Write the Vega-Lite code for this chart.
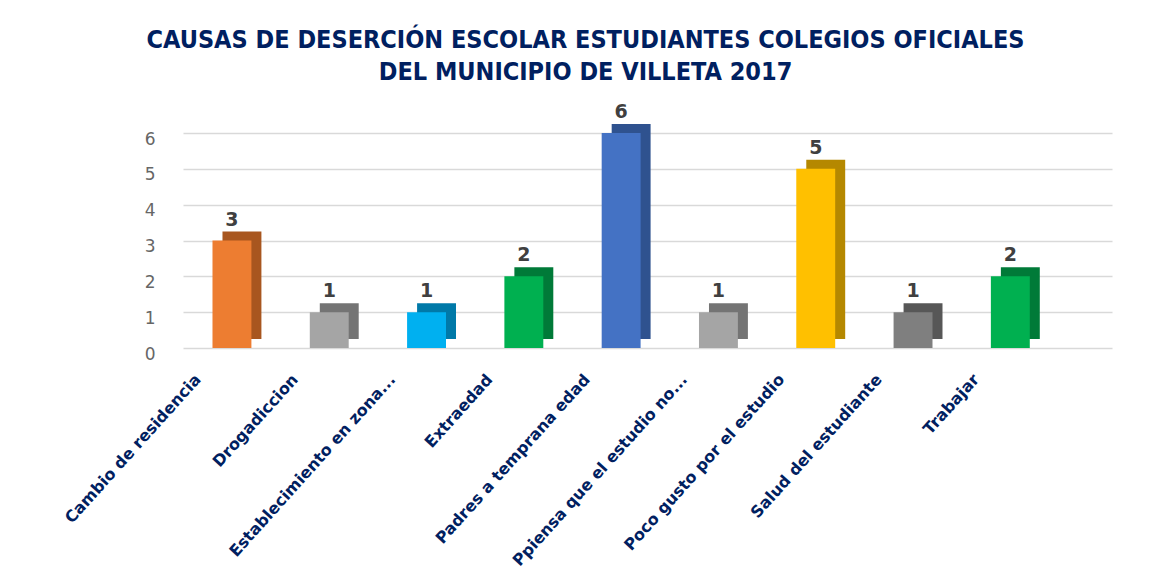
{
  "$schema": "https://vega.github.io/schema/vega-lite/v6.json",
  "width": 929,
  "height": 215,
  "autosize": {"type": "none"},
  "padding": {"left": 183, "top": 133, "right": 42, "bottom": 234},
  "background": "white",
  "config": {"view": {"stroke": null}},
  "title": {
    "text": ["CAUSAS DE DESERCIÓN ESCOLAR ESTUDIANTES COLEGIOS OFICIALES", "DEL MUNICIPIO DE VILLETA 2017"],
    "font": "DejaVu Sans Condensed, Liberation Sans",
    "fontSize": 25,
    "fontWeight": "bold",
    "color": "#002060",
    "anchor": "middle",
    "dx": -62,
    "offset": 18,
    "lineHeight": 32
  },
  "data": {
    "values": [
      {"causa": "Cambio de residencia", "n": 3},
      {"causa": "Drogadiccion", "n": 1},
      {"causa": "Establecimiento en zona...", "n": 1},
      {"causa": "Extraedad", "n": 2},
      {"causa": "Padres a temprana edad", "n": 6},
      {"causa": "Ppiensa que el estudio no...", "n": 1},
      {"causa": "Poco gusto por el estudio", "n": 5},
      {"causa": "Salud del estudiante", "n": 1},
      {"causa": "Trabajar", "n": 2}
    ]
  },
  "encoding": {
    "x": {
      "field": "causa",
      "type": "nominal",
      "sort": null,
      "title": null,
      "scale": {"paddingInner": 0.6, "paddingOuter": 0.574, "align": 0.264},
      "axis": {
        "domain": false,
        "ticks": false,
        "labelAngle": -48,
        "labelAlign": "right",
        "labelBaseline": "top",
        "labelFont": "DejaVu Sans",
        "labelFontWeight": "bold",
        "labelFontSize": 16,
        "labelColor": "#002060",
        "labelOffset": -40,
        "labelPadding": 23,
        "labelLimit": 0
      }
    },
    "y": {
      "field": "n",
      "type": "quantitative",
      "title": null,
      "scale": {"domain": [0, 6], "nice": false},
      "axis": {
        "values": [0, 1, 2, 3, 4, 5, 6],
        "domain": false,
        "ticks": false,
        "grid": true,
        "gridColor": "#d9d9d9",
        "gridWidth": 1.5,
        "labelFont": "DejaVu Sans",
        "labelFontSize": 17,
        "labelColor": "#666666",
        "labelPadding": 28,
        "labelOffset": 6
      }
    }
  },
  "layer": [
    {
      "mark": {"type": "bar", "xOffset": 10, "x2Offset": 10, "yOffset": -9, "y2Offset": -9},
      "encoding": {
        "color": {
          "field": "causa",
          "type": "nominal",
          "legend": null,
          "scale": {
            "domain": ["Cambio de residencia", "Drogadiccion", "Establecimiento en zona...", "Extraedad", "Padres a temprana edad", "Ppiensa que el estudio no...", "Poco gusto por el estudio", "Salud del estudiante", "Trabajar"],
            "range": ["#A8561F", "#747474", "#0079A8", "#007A38", "#2F528F", "#747474", "#B58800", "#575757", "#007A38"]
          }
        }
      }
    },
    {
      "mark": {"type": "bar"},
      "encoding": {
        "color": {
          "field": "causa",
          "type": "nominal",
          "legend": null,
          "scale": {
            "domain": ["Cambio de residencia", "Drogadiccion", "Establecimiento en zona...", "Extraedad", "Padres a temprana edad", "Ppiensa que el estudio no...", "Poco gusto por el estudio", "Salud del estudiante", "Trabajar"],
            "range": ["#ED7D31", "#A5A5A5", "#00B0F0", "#00B050", "#4472C4", "#A5A5A5", "#FFC000", "#7F7F7F", "#00B050"]
          }
        }
      }
    },
    {
      "mark": {"type": "text", "baseline": "bottom", "dy": -11, "font": "DejaVu Sans", "fontWeight": "bold", "fontSize": 19, "color": "#404040"},
      "encoding": {"text": {"field": "n", "type": "quantitative"}}
    }
  ],
  "resolve": {"scale": {"color": "independent"}}
}
